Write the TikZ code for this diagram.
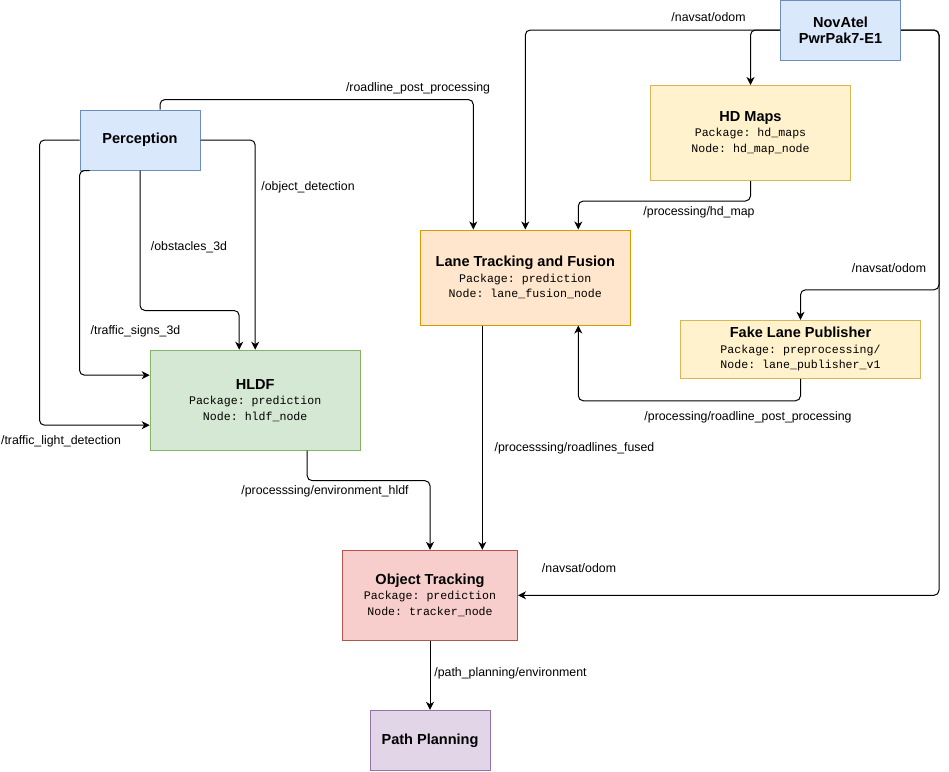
\documentclass[tikz,border=0pt]{standalone}
\usepackage{fontspec}
\setmainfont{Liberation Sans}
\setmonofont{Liberation Mono}
\usetikzlibrary{calc,arrows.meta}

\definecolor{blueFill}{HTML}{DAE8FC}
\definecolor{blueLine}{HTML}{6C8EBF}
\definecolor{yellowFill}{HTML}{FFF2CC}
\definecolor{yellowLine}{HTML}{D6B656}
\definecolor{orangeFill}{HTML}{FFE6CC}
\definecolor{orangeLine}{HTML}{D79B00}
\definecolor{greenFill}{HTML}{D5E8D4}
\definecolor{greenLine}{HTML}{82B366}
\definecolor{redFill}{HTML}{F8CECC}
\definecolor{redLine}{HTML}{B85450}
\definecolor{purpleFill}{HTML}{E1D5E7}
\definecolor{purpleLine}{HTML}{9673A6}

\newcommand{\ttl}[1]{{\rmfamily\fontsize{10.9}{12.5}\selectfont\bfseries #1}}

\begin{document}
\begin{tikzpicture}[%
x=0.75pt, y=-0.75pt,
box/.style={draw, line width=0.75pt, align=center, inner sep=2pt,
  font=\ttfamily\fontsize{8.7}{11.6}\selectfont},
topic/.style={inner sep=0pt, font=\fontsize{9.25}{11}\selectfont},
wire/.style={line width=0.75pt, rounded corners=3.75pt,
  -{Stealth[length=6pt, width=6pt, inset=1.8pt]}},
]
\useasboundingbox (0,0) rectangle (949,771);
%% nodes;
\node [box, fill=blueFill, draw=blueLine, minimum width=90pt, minimum height=45pt] (perc) at (140,140) {\ttl{Perception}};
\node [box, fill=blueFill, draw=blueLine, minimum width=90pt, minimum height=45pt] (nov) at (840.5,30) {\ttl{NovAtel}\\[0.6pt]\ttl{PwrPak7-E1}};
\node [box, fill=yellowFill, draw=yellowLine, minimum width=150pt, minimum height=71.25pt] (hdmap) at (750.5,133) {\ttl{HD Maps}\\Package: hd\_maps\\Node: hd\_map\_node};
\node [box, fill=orangeFill, draw=orangeLine, minimum width=157.5pt, minimum height=71.25pt] (lane) at (525.3,277.5) {\ttl{Lane Tracking and Fusion}\\Package: prediction\\Node: lane\_fusion\_node};
\node [box, fill=yellowFill, draw=yellowLine, minimum width=180pt, minimum height=43.5pt] (fake) at (800.5,349.3) {\ttl{Fake Lane Publisher}\\Package: preprocessing/\\Node: lane\_publisher\_v1};
\node [box, fill=greenFill, draw=greenLine, minimum width=157.5pt, minimum height=75pt] (hldf) at (255.2,400.2) {\ttl{HLDF}\\Package: prediction\\Node: hldf\_node};
\node [box, fill=redFill, draw=redLine, minimum width=131.25pt, minimum height=67.5pt] (obj) at (430,595.3) {\ttl{Object Tracking}\\Package: prediction\\Node: tracker\_node};
\node [box, fill=purpleFill, draw=purpleLine, minimum width=90pt, minimum height=45pt] (path) at (430,740.3) {\ttl{Path Planning}};
%% connectors;
\draw [wire] ($(perc.north)+(20,0)$) -- ++(0,-10) -| ($(lane.north)+(-52,0)$);
\draw [wire] (perc.east) -| (hldf.north);
\draw [wire] (perc.south) -- ++(0,140) -| ($(hldf.north)+(-16,0)$);
\draw [wire] ($(perc.south west)+(10,0)$) -- ++(-10,0) |- ($(hldf.west)+(0,-25)$);
\draw [wire] (perc.west) -- ++(-40,0) |- ($(hldf.west)+(0,25)$);
\draw [wire] (nov.west) -| (lane.north);
\draw [wire] (nov.west) -| (hdmap.north);
\draw [wire] (nov.east) -- ++(38,0) |- ($(fake.north)+(0,-30)$) -- (fake.north);
\draw [wire] (nov.east) -- ++(38,0) |- (obj.east);
\draw [wire] (hdmap.south) -- ++(0,20) -| ($(lane.north)+(53,0)$);
\draw [wire] (fake.south) -- ++(0,22) -| ($(lane.south)+(53,0)$);
\draw [wire] ($(lane.south)+(-43,0)$) coordinate (fused) -- (fused |- obj.north);
\draw [wire] ($(hldf.south)+(52,0)$) -- ++(0,30) -| (obj.north);
\draw [wire] (obj.south) -- (path.north);
%% topic labels;
\node [topic] (tRoad) at (418,88) {/roadline\_post\_processing};
\node [topic] (tObj) at (308,187.5) {/object\_detection};
\node [topic] (tObs) at (189,247.5) {/obstacles\_3d};
\node [topic] (tSign) at (135.5,331.5) {/traffic\_signs\_3d};
\node [topic] (tLight) at (61,441.5) {/traffic\_light\_detection};
\node [topic] (tNavA) at (708.5,17) {/navsat/odom};
\node [topic] (tMap) at (699,212) {/processing/hd\_map};
\node [topic] (tNavB) at (889,268) {/navsat/odom};
\node [topic] (tPost) at (748,417) {/processing/roadline\_post\_processing};
\node [topic] (tFused) at (574.5,448) {/processsing/roadlines\_fused};
\node [topic] (tEnv) at (325,491.5) {/processsing/environment\_hldf};
\node [topic] (tNavC) at (579,568) {/navsat/odom};
\node [topic] (tPlan) at (510.5,673) {/path\_planning/environment};
\end{tikzpicture}
\end{document}
